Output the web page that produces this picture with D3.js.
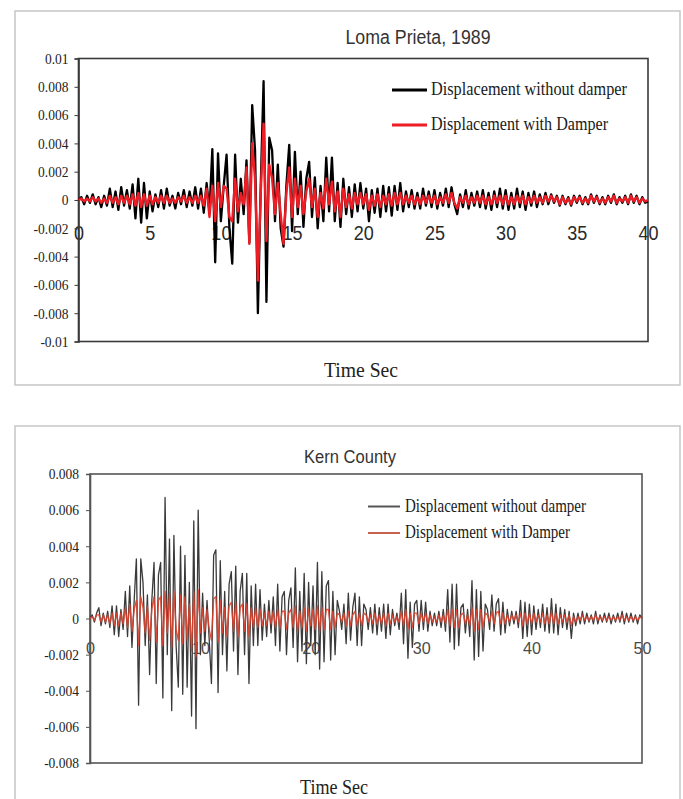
<!DOCTYPE html>
<html lang="en">
<head>
<meta charset="UTF-8">
<title>Displacement with and without damper</title>
<script src="https://d3js.org/d3.v7.min.js"></script>
<style>
  body { margin: 0; background: #fff; }
  svg { display: block; }
</style>
</head>
<body>
<svg width="683" height="799"></svg>
<script>
// values are in units of 0.001 (same as the tick labels / 1000)
const seriesNames = ["Displacement without damper", "Displacement with Damper"];

// Loma Prieta, 1989 -- one sample every 0.2 s, 0..40 s
const lomaStep = 0.2;
const lomaWithout = [
  0, 0.2, -0.3, 0.3, -0.2,   0.4, -0.3, 0.2, -0.5, 0.3,
  -0.4, 0.8, -0.5, 0.6, -0.7,   0.9, -0.4, 0.7, -0.6, 1.1,
  -1.3, 1.5, -1.6, 1.2, -1.3,   0.6, -0.8, 0.4, -0.5, 0.7,
  -0.6, 0.8, -0.4, 0.3, -0.6,   0.5, -0.3, 0.7, -0.5, 0.6,
  -0.4, 0.9, -0.6, 0.8, -0.9,   1.2, -0.8, 3.6, -4.4, 3.3,
  -1.5, 1.0, 3.2, -2.0, -4.5,   3.2, -1.6, 1.5, -1.0, 2.8,
  -3.0, 6.7, 3.5, -8.0, 1.0,   8.4, -7.2, 4.4, 3.5, -1.5,
  2.5, -2.0, -3.3, 1.0, 3.9,   -2.2, 3.4, -1.0, 2.0, -1.9,
  1.5, 2.7, -1.2, 1.6, -2.0,   1.0, -1.5, 3.0, -0.8, 3.0,
  -1.5, 1.2, -1.9, 1.5, -1.0,   0.9, -1.2, 1.1, -0.8, 1.2,
  -0.6, 0.8, -1.5, 0.7, -0.9,   0.8, -1.2, 1.0, -0.8, 0.9,
  -1.1, 1.0, -0.7, 1.2, -0.8,   0.6, -0.5, 0.7, -0.6, 0.5,
  -0.6, 0.8, -0.4, 0.6, -0.5,   0.7, -0.6, 0.5, -0.4, 0.8,
  -0.5, 0.9, -0.3, -1.0, 0.4,   -0.5, 0.7, -0.6, 0.5, -0.4,
  0.6, -0.5, 0.7, -0.6, 0.5,   -0.7, 0.6, -0.5, 0.8, -0.6,
  0.7, -0.7, 0.5, -0.6, 0.8,   -0.5, 0.6, -0.7, 0.5, -0.4,
  0.6, -0.5, 0.4, -0.3, 0.5,   -0.3, 0.4, -0.2, 0.3, -0.4,
  0.3, -0.3, 0.2, -0.4, 0.3,   -0.2, 0.3, -0.3, 0.2, -0.3,
  0.4, -0.2, 0.3, -0.3, 0.2,   -0.3, 0.3, -0.2, 0.4, -0.3,
  0.2, -0.2, 0.3, -0.3, 0.4,   -0.2, 0.3, -0.3, 0.2, -0.2,
  -0.1
];
const lomaWith = [
  0, 0.1, -0.1, 0.1, -0.1,   0.2, -0.1, 0.1, -0.2, 0.1,
  -0.2, 0.3, -0.2, 0.2, -0.3,   0.3, -0.2, 0.3, -0.3, 0.4,
  -0.4, 0.5, -0.5, 0.4, -0.4,   0.3, -0.3, 0.2, -0.2, 0.3,
  -0.2, 0.3, -0.2, 0.1, -0.2,   0.2, -0.1, 0.3, -0.2, 0.2,
  -0.2, 0.3, -0.2, 0.3, -0.4,   0.8, -1.2, 1.0, -1.5, 1.2,
  -0.5, 1.0, 0.8, -1.2, -1.5,   1.5, -0.8, 0.5, -0.3, 2.3,
  -3.1, 4.0, 1.5, -5.7, 0.5,   5.4, -2.9, 2.5, 1.5, -1.0,
  1.2, -1.0, -3.1, 0.5, 2.3,   -1.2, 1.5, -0.5, 1.0, -1.0,
  0.6, 1.5, -0.5, 0.8, -1.2,   0.5, -0.6, 1.5, -0.3, 1.3,
  -0.8, 0.6, -1.2, 0.8, -0.5,   0.4, -0.6, 0.5, -0.3, 0.5,
  -0.3, 0.4, -0.7, 0.3, -0.4,   0.4, -0.5, 0.3, -0.3, 0.4,
  -0.4, 0.5, -0.3, 0.5, -0.3,   0.3, -0.2, 0.3, -0.3, 0.2,
  -0.3, 0.3, -0.2, 0.3, -0.2,   0.3, -0.3, 0.2, -0.2, 0.4,
  -0.2, 0.5, -0.2, -0.6, 0.2,   -0.2, 0.3, -0.3, 0.2, -0.2,
  0.3, -0.2, 0.3, -0.3, 0.2,   -0.3, 0.3, -0.2, 0.3, -0.3,
  0.3, -0.3, 0.2, -0.3, 0.3,   -0.2, 0.3, -0.3, 0.2, -0.2,
  0.3, -0.2, 0.2, -0.2, 0.3,   -0.1, 0.3, -0.1, 0.2, -0.3,
  0.2, -0.2, 0.1, -0.3, 0.2,   -0.1, 0.2, -0.2, 0.1, -0.2,
  0.3, -0.1, 0.2, -0.2, 0.1,   -0.2, 0.2, -0.1, 0.3, -0.2,
  0.1, -0.1, 0.2, -0.2, 0.3,   -0.1, 0.2, -0.2, 0.1, -0.1,
  0
];
const lomaXTicks = [0, 5, 10, 15, 20, 25, 30, 35, 40];
const lomaYTicks = [10, 8, 6, 4, 2, 0, -2, -4, -6, -8, -10];
const lomaYLabels = ["0.01", "0.008", "0.006", "0.004", "0.002", "0", "-0.002", "-0.004", "-0.006", "-0.008", "-0.01"];

// Kern County -- one sample every 0.2 s, 0..50 s
const kernStep = 0.2;
const kernWithout = [
  0, 0.2, -0.2, 0.3, 0.6,   -0.4, 0.3, -0.3, 0.4, -0.5,
  0.7, -0.9, 0.7, -1.0, 0.5,   -0.6, 1.5, -1.0, 1.8, -1.6,
  1.0, 3.3, -4.8, 3.3, 2.0,   -1.5, 1.3, -3.1, 1.0, 3.1,
  -3.6, 2.4, 3.1, -4.4, 6.7,   -2.0, 4.4, -5.1, 4.6, -1.5,
  -3.8, 4.0, -4.2, 3.5, -3.8,   2.0, -5.4, 5.4, -6.1, 6.0,
  -2.0, 1.4, -1.5, 1.0, -1.2,   -3.6, 3.5, 3.8, -4.1, 3.2,
  -2.0, 1.5, -2.9, 1.9, 2.6,   -1.8, 2.9, -3.1, 1.5, 2.5,
  -2.0, 2.5, -3.6, 1.8, -1.5,   1.9, -1.5, 1.6, -1.2, 0.8,
  -1.0, 1.0, -0.8, 1.2, -1.5,   1.9, -1.8, 1.2, 1.5, -2.0,
  1.0, 1.7, -1.6, 2.8, -2.4,   1.5, -1.8, 2.5, -2.5, 2.0,
  -1.5, 1.8, -2.0, 3.1, -2.8,   2.6, -2.4, 1.8, 2.1, -2.3,
  1.5, -2.0, 1.0, 0.4, -0.6,   0.8, -1.4, 1.4, -1.2, 0.6,
  1.4, -1.5, 1.2, -1.5, 0.8,   0.5, -0.6, 0.6, -0.8, 0.8,
  -0.9, 0.6, -0.7, 0.8, -1.1,   0.8, -0.9, 0.5, -0.4, 0.3,
  -0.6, 1.4, -1.4, 1.6, -2.2,   0.9, -1.6, 0.8, 1.0, -0.7,
  1.0, -0.6, 0.9, -0.7, 0.4,   -0.4, 0.3, -0.4, 0.4, -0.5,
  0.5, -0.7, 1.6, -1.3, 1.9,   -1.7, 1.9, -1.5, 0.6, 0.8,
  -0.8, 0.5, -1.0, 2.1, -2.3,   1.6, -2.1, 1.5, -1.8, 0.8,
  0.5, -0.6, 1.3, -0.7, 0.8,   1.1, -0.9, 0.9, -0.8, 0.5,
  -0.4, 0.4, -0.3, 0.4, -0.5,   1.0, -1.1, 0.9, -1.0, 0.8,
  -0.9, 0.7, -0.6, 0.5, -0.5,   0.8, -0.7, 0.6, -0.8, 1.1,
  -0.8, 0.8, -0.9, 0.6, -0.5,   0.5, -0.6, 0.4, -1.1, 0.3,
  -0.4, 0.3, -0.3, 0.4, -0.3,   0.3, -0.2, 0.2, -0.3, 0.4,
  -0.3, 0.2, -0.2, 0.3, -0.2,   0.3, -0.3, 0.2, -0.2, 0.3,
  -0.2, 0.4, -0.3, 0.3, -0.2,   0.3, -0.2, 0.2, -0.3, 0.2,
  0
];
const kernWith = [
  0, 0.1, -0.1, 0.2, 0.2,   -0.2, 0.2, -0.2, 0.2, -0.3,
  0.3, -0.4, 0.3, -0.4, 0.3,   -0.3, 0.6, -0.5, 0.8, -0.7,
  0.5, 1.0, -1.5, 1.2, 0.6,   -0.8, 0.7, -1.2, 0.5, 1.2,
  -1.3, 1.0, 1.2, -1.5, 1.5,   -0.8, 1.4, -1.6, 1.5, -0.6,
  -1.2, 1.3, -1.4, 1.2, -1.2,   0.8, -1.8, 1.5, -2.1, 1.6,
  -0.8, 0.6, -0.7, 0.5, -0.6,   -1.2, 1.1, 1.2, -1.3, 1.0,
  -0.8, 0.6, -1.0, 0.7, 0.9,   -0.7, 0.9, -1.0, 0.6, 0.8,
  -0.7, 0.8, -1.0, 0.6, -0.5,   0.6, -0.5, 0.5, -0.4, 0.3,
  -0.4, 0.4, -0.3, 0.4, -0.5,   0.5, -0.5, 0.4, 0.4, -0.6,
  0.3, 0.5, -0.5, 0.7, -0.7,   0.4, -0.5, 0.6, -0.7, 0.5,
  -0.4, 0.5, -0.6, 0.7, -0.7,   0.6, -0.6, 0.5, 0.5, -0.6,
  0.4, -0.5, 0.3, 0.2, -0.2,   0.3, -0.4, 0.4, -0.4, 0.2,
  0.4, -0.4, 0.3, -0.4, 0.3,   0.2, -0.2, 0.2, -0.3, 0.3,
  -0.3, 0.2, -0.3, 0.3, -0.4,   0.3, -0.3, 0.2, -0.2, 0.1,
  -0.2, 0.4, -0.4, 0.5, -0.6,   0.3, -0.5, 0.3, 0.3, -0.3,
  0.3, -0.2, 0.3, -0.3, 0.2,   -0.2, 0.1, -0.2, 0.2, -0.2,
  0.2, -0.3, 0.5, -0.4, 0.5,   -0.5, 0.5, -0.5, 0.2, 0.3,
  -0.3, 0.2, -0.4, 0.6, -0.7,   0.5, -0.6, 0.5, -0.5, 0.3,
  0.2, -0.2, 0.4, -0.3, 0.3,   0.4, -0.3, 0.3, -0.3, 0.2,
  -0.2, 0.2, -0.1, 0.2, -0.2,   0.3, -0.4, 0.3, -0.3, 0.3,
  -0.3, 0.3, -0.2, 0.2, -0.2,   0.3, -0.3, 0.2, -0.3, 0.4,
  -0.3, 0.3, -0.3, 0.2, -0.2,   0.2, -0.2, 0.2, -0.4, 0.1,
  -0.2, 0.1, -0.1, 0.2, -0.1,   0.1, -0.1, 0.1, -0.1, 0.2,
  -0.1, 0.1, -0.1, 0.1, -0.1,   0.1, -0.1, 0.1, -0.1, 0.1,
  -0.1, 0.2, -0.1, 0.1, -0.1,   0.1, -0.1, 0.1, -0.1, 0.1,
  0
];
const kernXTicks = [0, 10, 20, 30, 40, 50];
const kernYTicks = [8, 6, 4, 2, 0, -2, -4, -6, -8];
const kernYLabels = ["0.008", "0.006", "0.004", "0.002", "0", "-0.002", "-0.004", "-0.006", "-0.008"];

const SERIF = '"Liberation Serif", "DejaVu Serif", serif';
const SANS = '"Liberation Sans", Arial, sans-serif';
const svg = d3.select("svg");

// squeeze text horizontally (the original uses narrow Excel fonts)
function squeeze(sel, k) {
  sel.each(function () {
    const w = this.getComputedTextLength();
    d3.select(this).attr("textLength", w * k).attr("lengthAdjust", "spacingAndGlyphs");
  });
}

function drawPanel(p) {
  const g = svg.append("g");

  g.append("rect")
    .attr("x", p.frame[0]).attr("y", p.frame[1])
    .attr("width", p.frame[2]).attr("height", p.frame[3])
    .attr("fill", "#fff").attr("stroke", "#c6c6c6").attr("stroke-width", 1.5);

  const x = d3.scaleLinear()
    .domain([p.xTicks[0], p.xTicks[p.xTicks.length - 1]])
    .range([p.left, p.right]);
  const y = d3.scaleLinear()
    .domain([p.yTicks[p.yTicks.length - 1], p.yTicks[0]])
    .range([p.bottom, p.top]);

  // x labels sit just under the zero line
  const xAxis = g.append("g")
    .attr("transform", `translate(0,${y(0)})`)
    .call(d3.axisBottom(x).tickValues(p.xTicks).tickSize(0).tickPadding(p.xPad).tickFormat(d3.format("d")));
  xAxis.select(".domain").remove();
  xAxis.selectAll("text")
    .attr("font-family", SANS).attr("font-size", p.xFont).attr("fill", p.xColor)
    .call(squeeze, p.xSqueeze);

  // plot box
  g.append("rect")
    .attr("x", p.left).attr("y", p.top)
    .attr("width", p.right - p.left).attr("height", p.bottom - p.top)
    .attr("fill", "none").attr("stroke", p.boxColor).attr("stroke-width", 1.6);

  const yAxis = g.append("g")
    .attr("transform", `translate(${p.left},0)`)
    .call(d3.axisLeft(y).tickValues(p.yTicks).tickSize(4).tickPadding(p.yPad)
      .tickFormat(d => p.yLabels[p.yTicks.indexOf(d)]));
  yAxis.select(".domain").attr("stroke", p.boxColor).attr("stroke-width", 1.6);
  yAxis.selectAll(".tick line").attr("stroke", p.boxColor);
  yAxis.selectAll("text")
    .attr("font-family", SERIF).attr("font-size", p.yFont).attr("fill", "#222")
    .call(squeeze, 0.9);

  const line = d3.line()
    .x((d, i) => x(i * p.step))
    .y(d => y(d))
    .curve(d3.curveLinear);

  p.series.forEach((s, k) => {
    g.append("path")
      .datum(s)
      .attr("d", line)
      .attr("fill", "none")
      .attr("stroke", p.colors[k])
      .attr("stroke-width", p.widths[k])
      .attr("stroke-opacity", p.opacity[k])
      .attr("stroke-linejoin", "round");
  });

  // title
  g.append("text")
    .attr("x", p.title.x).attr("y", p.title.y)
    .attr("text-anchor", "middle")
    .attr("font-family", SANS).attr("font-size", p.title.size).attr("fill", "#333")
    .attr("textLength", p.title.w).attr("lengthAdjust", "spacingAndGlyphs")
    .text(p.title.text);

  // legend
  seriesNames.forEach((name, k) => {
    const ly = p.legend.y[k];
    g.append("line")
      .attr("x1", p.legend.x1).attr("x2", p.legend.x2)
      .attr("y1", ly).attr("y2", ly)
      .attr("stroke", p.legend.colors[k]).attr("stroke-width", p.legend.width);
    g.append("text")
      .attr("x", p.legend.tx).attr("y", ly + 5)
      .attr("font-family", SERIF).attr("font-size", p.legend.size).attr("fill", "#1a1a1a")
      .attr("textLength", p.legend.w[k]).attr("lengthAdjust", "spacingAndGlyphs")
      .text(name);
  });

  // axis title
  g.append("text")
    .attr("x", p.xTitle.x).attr("y", p.xTitle.y)
    .attr("text-anchor", "middle")
    .attr("font-family", SERIF).attr("font-size", p.xTitle.size).attr("fill", "#222")
    .attr("textLength", p.xTitle.w).attr("lengthAdjust", "spacingAndGlyphs")
    .text("Time Sec");
}

drawPanel({
  frame: [15, 11, 665, 374],
  left: 78.5, right: 648, top: 58.5, bottom: 341.5,
  xTicks: lomaXTicks, yTicks: lomaYTicks, yLabels: lomaYLabels,
  xPad: 26, xFont: 20, xSqueeze: 0.9, xColor: "#2a2a2a",
  yPad: 6, yFont: 15, boxColor: "#3a3a3a",
  step: lomaStep,
  series: [lomaWithout, lomaWith],
  colors: ["#000000", "#ee1c24"], widths: [2.3, 2.4], opacity: [1, 1],
  title: { text: "Loma Prieta, 1989", x: 418, y: 44, size: 20, w: 145 },
  legend: { x1: 392, x2: 427, tx: 431, y: [90, 125], w: [196, 177], size: 19,
            colors: ["#000000", "#ee1c24"], width: 3 },
  xTitle: { x: 361, y: 377, size: 22, w: 74 }
});

drawPanel({
  frame: [15, 426, 665, 400],
  left: 90, right: 642, top: 474, bottom: 763,
  xTicks: kernXTicks, yTicks: kernYTicks, yLabels: kernYLabels,
  xPad: 23, xFont: 17, xSqueeze: 0.95, xColor: "#4a4a4a",
  yPad: 7, yFont: 15, boxColor: "#555555",
  step: kernStep,
  series: [kernWithout, kernWith],
  colors: ["#3a3a3a", "#d9432f"], widths: [1.3, 1.4], opacity: [1, 0.9],
  title: { text: "Kern County", x: 350, y: 463, size: 18, w: 92 },
  legend: { x1: 368, x2: 400, tx: 405, y: [506.5, 533], w: [181, 165], size: 18,
            colors: ["#555555", "#c8624f"], width: 2 },
  xTitle: { x: 334, y: 794, size: 20, w: 68 }
});
</script>
</body>
</html>
